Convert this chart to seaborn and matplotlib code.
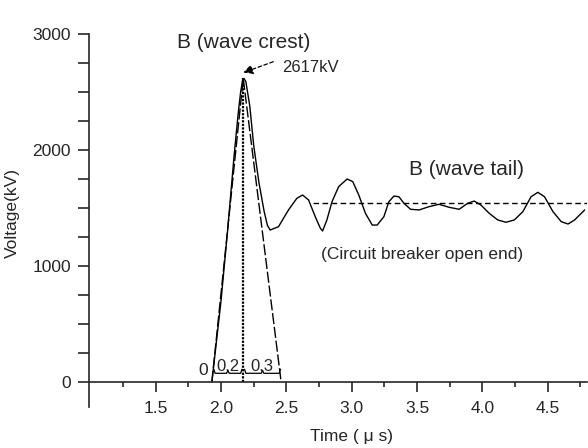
import matplotlib
matplotlib.use("Agg")
import matplotlib.pyplot as plt
import seaborn as sns
import numpy as np
import pandas as pd

# ---- data ----
curve_t = [1.93, 2.00, 2.05, 2.10, 2.13, 2.15, 2.165, 2.175, 2.19, 2.22, 2.25, 2.29, 2.33, 2.355, 2.376,
           2.44, 2.516, 2.58, 2.624, 2.67, 2.721, 2.76, 2.777, 2.81, 2.849, 2.90, 2.965, 3.008,
           3.054, 3.105, 3.157, 3.195, 3.246, 3.284, 3.323, 3.361, 3.40, 3.45, 3.515, 3.59,
           3.668, 3.745, 3.822, 3.886, 3.937, 3.988, 4.052, 4.117, 4.18, 4.244, 4.309, 4.372,
           4.424, 4.475, 4.54, 4.603, 4.655, 4.705, 4.782]
curve_v = [0, 700, 1300, 1950, 2300, 2500, 2600, 2617, 2590, 2380, 2040, 1720, 1470, 1350, 1310,
           1339, 1483, 1583, 1612, 1569, 1425, 1325, 1302, 1397, 1554, 1684, 1750, 1727,
           1612, 1454, 1353, 1353, 1425, 1554, 1603, 1597, 1540, 1489, 1483, 1511,
           1532, 1506, 1489, 1540, 1560, 1526, 1454, 1397, 1377, 1397, 1468, 1597,
           1635, 1597, 1468, 1382, 1362, 1397, 1483]

tri_t = [1.93, 2.17, 2.46]
tri_v = [0, 2617, 0]

level_t = [2.70, 4.80]
level_v = [1543, 1543]

y_major = [0, 1000, 2000, 3000]
x_major = [1.5, 2.0, 2.5, 3.0, 3.5, 4.0, 4.5]
x_labels = ["1.5", "2.0", "2.5", "3.0", "3.5", "4.0", "4.5"]

df_curve = pd.DataFrame({"t": curve_t, "v": curve_v})
df_tri = pd.DataFrame({"t": tri_t, "v": tri_v})
df_level = pd.DataFrame({"t": level_t, "v": level_v})

sns.set_style("ticks")
plt.rcParams["font.family"] = ["Liberation Sans", "DejaVu Sans"]

fig = plt.figure(figsize=(5.88, 4.48), dpi=100)
ax = fig.add_axes([89/588, 1 - 406.7/448, (587 - 89)/588, (406.7 - 34)/448])

sns.lineplot(data=df_curve, x="t", y="v", ax=ax, color="black", lw=1.0, sort=False, estimator=None)
sns.lineplot(data=df_tri, x="t", y="v", ax=ax, color="black", lw=1.0, sort=False, estimator=None,
             linestyle=(0, (8, 2)))
sns.lineplot(data=df_level, x="t", y="v", ax=ax, color="black", lw=1.0, estimator=None,
             linestyle=(0, (4, 2.5)))
# vertical dotted line at crest
ax.plot([tri_t[1], tri_t[1]], [0, tri_v[1]], color="black", lw=1.6, linestyle=(0, (1, 0.6)))

# brackets for 0.2 and 0.3
for x0, x1 in [(1.945, 2.16), (2.18, 2.455)]:
    xm = (x0 + x1) / 2
    ax.plot([x0, x0 + 0.01, xm - 0.01, xm, xm + 0.01, x1 - 0.01, x1],
            [110, 75, 75, 100, 75, 75, 110], color="black", lw=0.9)

ax.set_xlim(0.99, 4.80)
ax.set_ylim(-213, 3000)
ax.spines["top"].set_visible(False)
ax.spines["right"].set_visible(False)
ax.spines["bottom"].set_position(("data", 0))
for s in ["left", "bottom"]:
    ax.spines[s].set_linewidth(1.2)

ax.set_xticks(x_major)
ax.set_xticklabels(x_labels)
ax.set_xticks(np.arange(1.25, 4.8, 0.5), minor=True)
ax.set_yticks(y_major)
ax.set_yticks(np.arange(250, 3000, 250), minor=True)
ax.tick_params(axis="x", which="major", length=7.5, width=1.2, pad=6, labelsize=12.5)
ax.tick_params(axis="x", which="minor", length=3.5, width=1.2)
ax.tick_params(axis="y", which="both", length=8, width=1.2, pad=5, labelsize=12.5)

ax.set_xlabel("")
ax.text(3.0, -470, "Time ( μ s)", fontsize=12.5, ha="center", va="center", clip_on=False)

ax.set_ylabel("Voltage(kV)", fontsize=12.5)
ax.yaxis.set_label_coords(-0.139, 0.52)

ax.text(2.17, 2930, "B (wave crest)", fontsize=15, ha="center", va="center")
ax.annotate("", xy=(2.17, 2667), xytext=(2.40, 2761),
            arrowprops=dict(arrowstyle="-|>", color="black", lw=0.9, linestyle=(0, (3, 2)),
                            mutation_scale=14, shrinkA=0, shrinkB=0))
ax.text(2.465, 2707, "2617kV", fontsize=12, ha="left", va="center")
ax.text(3.88, 1828, "B (wave tail)", fontsize=15, ha="center", va="center")
ax.text(3.54, 1095, "(Circuit breaker open end)", fontsize=12.5, ha="center", va="center")
ax.text(1.86, 100, "0", fontsize=12.5, ha="center", va="center")
ax.text(2.055, 130, "0.2", fontsize=12, ha="center", va="center")
ax.text(2.31, 130, "0.3", fontsize=12, ha="center", va="center")

fig.savefig("out.png", dpi=100)
